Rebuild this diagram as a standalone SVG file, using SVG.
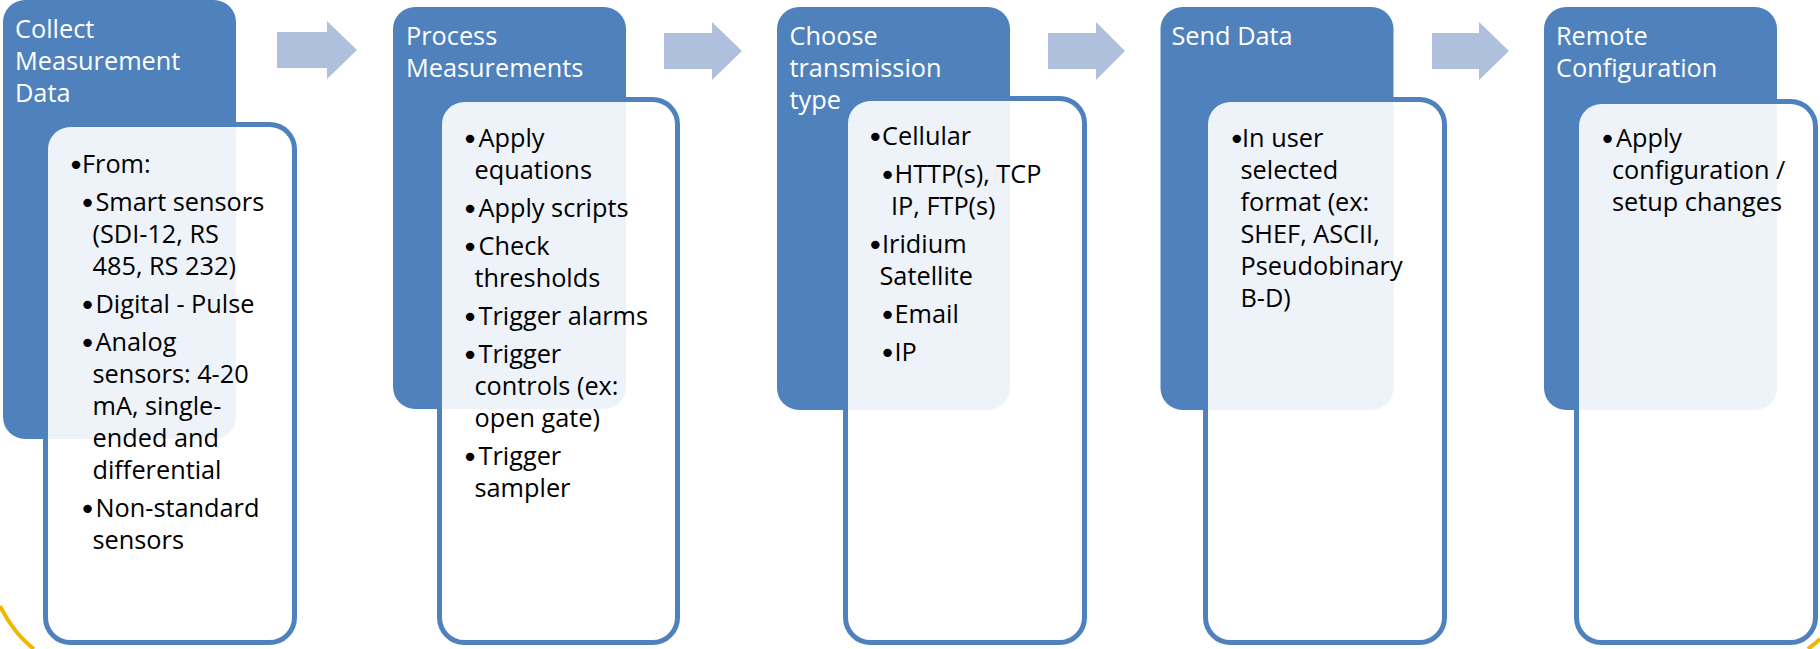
<svg xmlns="http://www.w3.org/2000/svg" width="1820" height="649" viewBox="0 0 1820 649">
<style>
.dark{fill:#4F81BD}
.light{fill:#FFFFFF;fill-opacity:.9;stroke:#4F81BD;stroke-width:5}
.title{font-family:"Open Sans",sans-serif;font-size:25.3px;fill:#FFFFFF}
.body{font-family:"Open Sans",sans-serif;font-size:25.3px;fill:#000000}
.bul{font-family:"DejaVu Sans",sans-serif;font-size:29px}
.arrow{fill:#AFC0DD}
.deco{fill:none;stroke:#F2B600;stroke-width:4}
</style>
<rect width="1820" height="649" fill="#FFFFFF"/>
<g id="decoration">
<path class="deco" d="M0,606 Q14,634 34,649"/>
<path class="deco" d="M1808,649 Q1815,644 1820,639"/>
</g>
<g id="connectors">
<path class="arrow" d="M277,32 H327 V21 L357,50 L327,79 V68 H277 Z"/>
<path class="arrow" d="M664,33 H712 V22 L742,51 L712,80 V69 H664 Z"/>
<path class="arrow" d="M1048,33 H1096 V22 L1125,51 L1096,80 V69 H1048 Z"/>
<path class="arrow" d="M1432,33 H1479 V22 L1509,51 L1479,80 V69 H1432 Z"/>
</g>
<g id="collect">
<rect class="dark" x="3" y="0" width="233" height="439" rx="22"/>
<rect class="light" x="45.5" y="124.5" width="249" height="518" rx="25"/>
<text class="title"><tspan x="15" y="38">Collect</tspan><tspan x="15" y="70">Measurement</tspan><tspan x="15" y="102">Data</tspan></text>
<text class="body"><tspan class="bul" x="67.5" y="175">•</tspan><tspan x="82" y="173">From:</tspan></text>
<text class="body"><tspan class="bul" x="79" y="213">•</tspan><tspan x="95.5" y="211">Smart sensors</tspan><tspan x="92.5" y="243">(SDI-12, RS</tspan><tspan x="92.5" y="275">485, RS 232)</tspan></text>
<text class="body"><tspan class="bul" x="79" y="315">•</tspan><tspan x="95.5" y="313">Digital - Pulse</tspan></text>
<text class="body"><tspan class="bul" x="79" y="353">•</tspan><tspan x="95.5" y="351">Analog</tspan><tspan x="92.5" y="383">sensors: 4-20</tspan><tspan x="92.5" y="415">mA, single-</tspan><tspan x="92.5" y="447">ended and</tspan><tspan x="92.5" y="479">differential</tspan></text>
<text class="body"><tspan class="bul" x="79" y="519">•</tspan><tspan x="95.5" y="517">Non-standard</tspan><tspan x="92.5" y="549">sensors</tspan></text>
</g>
<g id="process">
<rect class="dark" x="393" y="7" width="233" height="402" rx="22"/>
<rect class="light" x="439.5" y="99.5" width="238" height="543" rx="25"/>
<text class="title"><tspan x="406" y="45">Process</tspan><tspan x="406" y="77">Measurements</tspan></text>
<text class="body"><tspan class="bul" x="461.5" y="148.5">•</tspan><tspan x="478.5" y="146.5">Apply</tspan><tspan x="474.5" y="178.5">equations</tspan></text>
<text class="body"><tspan class="bul" x="461.5" y="218.5">•</tspan><tspan x="478.5" y="216.5">Apply scripts</tspan></text>
<text class="body"><tspan class="bul" x="461.5" y="256.5">•</tspan><tspan x="478.5" y="254.5">Check</tspan><tspan x="474.5" y="286.5">thresholds</tspan></text>
<text class="body"><tspan class="bul" x="461.5" y="326.5">•</tspan><tspan x="478.5" y="324.5">Trigger alarms</tspan></text>
<text class="body"><tspan class="bul" x="461.5" y="364.5">•</tspan><tspan x="478.5" y="362.5">Trigger</tspan><tspan x="474.5" y="394.5">controls (ex:</tspan><tspan x="474.5" y="426.5">open gate)</tspan></text>
<text class="body"><tspan class="bul" x="461.5" y="466.5">•</tspan><tspan x="478.5" y="464.5">Trigger</tspan><tspan x="474.5" y="496.5">sampler</tspan></text>
</g>
<g id="choose">
<rect class="dark" x="777" y="7" width="233" height="403" rx="22"/>
<rect class="light" x="845.5" y="98.5" width="239" height="544" rx="25"/>
<text class="title"><tspan x="789.5" y="45">Choose</tspan><tspan x="789.5" y="77">transmission</tspan><tspan x="789.5" y="109">type</tspan></text>
<text class="body"><tspan class="bul" x="866.7" y="146.5">•</tspan><tspan x="882" y="144.5">Cellular</tspan></text>
<text class="body"><tspan class="bul" x="879" y="184.5">•</tspan><tspan x="894.5" y="182.5">HTTP(s), TCP</tspan><tspan x="891" y="214.5">IP, FTP(s)</tspan></text>
<text class="body"><tspan class="bul" x="866.7" y="254.5">•</tspan><tspan x="882" y="252.5">Iridium</tspan><tspan x="879.5" y="284.5">Satellite</tspan></text>
<text class="body"><tspan class="bul" x="879" y="324.5">•</tspan><tspan x="894.5" y="322.5">Email</tspan></text>
<text class="body"><tspan class="bul" x="879" y="362.5">•</tspan><tspan x="894.5" y="360.5">IP</tspan></text>
</g>
<g id="send">
<rect class="dark" x="1160.5" y="7" width="233" height="403" rx="22"/>
<rect class="light" x="1205.5" y="99.5" width="239" height="543" rx="25"/>
<text class="title" x="1171.5" y="45">Send Data</text>
<text class="body"><tspan class="bul" x="1228.2" y="148.5">•</tspan><tspan x="1242" y="146.5">In user</tspan><tspan x="1240.5" y="178.5">selected</tspan><tspan x="1240.5" y="210.5">format (ex:</tspan><tspan x="1240.5" y="242.5">SHEF, ASCII,</tspan><tspan x="1240.5" y="274.5">Pseudobinary</tspan><tspan x="1240.5" y="306.5">B-D)</tspan></text>
</g>
<g id="remote">
<rect class="dark" x="1544" y="7" width="233" height="403" rx="22"/>
<rect class="light" x="1576.5" y="101.5" width="239" height="541" rx="25"/>
<text class="title"><tspan x="1556" y="45">Remote</tspan><tspan x="1556" y="77">Configuration</tspan></text>
<text class="body"><tspan class="bul" x="1599" y="148.5">•</tspan><tspan x="1616" y="146.5">Apply</tspan><tspan x="1612" y="178.5">configuration /</tspan><tspan x="1612" y="210.5">setup changes</tspan></text>
</g>
</svg>
